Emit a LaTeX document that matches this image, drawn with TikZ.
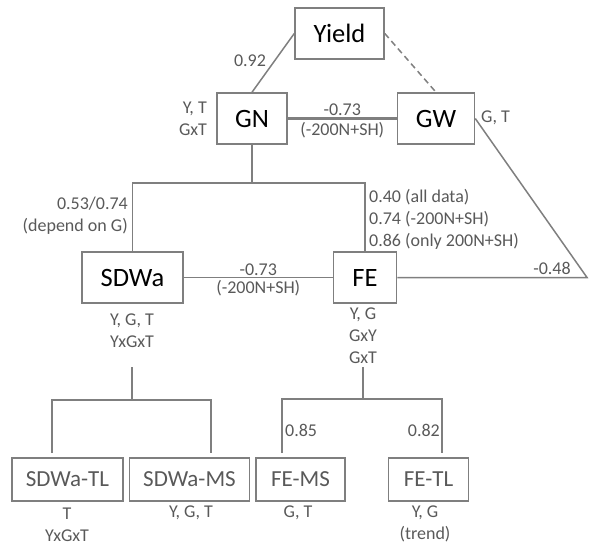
\documentclass[tikz,border=0pt]{standalone}
\usepackage{fontspec}
\setmainfont{Carlito}
\usepackage{tikz}
\usetikzlibrary{positioning, calc}
\definecolor{linegray}{HTML}{7F7F7F}
\definecolor{textgray}{HTML}{595959}

\begin{document}
\begin{tikzpicture}[
        x=1pt, y=-1pt,
        box/.style={rectangle, draw=linegray, line width=1.5pt, minimum height=51pt, inner sep=0pt, font=\fontsize{26.5}{30}\selectfont},
        subbox/.style={rectangle, draw=linegray, line width=1.5pt, minimum height=43pt, inner sep=0pt, text=textgray, font=\fontsize{23}{26}\selectfont},
        link/.style={draw=linegray, line width=1.5pt},
        stem/.style={draw=linegray, line width=2.8pt},
        label/.style={text=textgray, font=\fontsize{18}{22}\selectfont, inner sep=0pt}
    ]
    \useasboundingbox (0,0) rectangle (593,545);

    \node[box, minimum width=89pt] (yield) at (339.5,33.5) {Yield};
    \node[box, minimum width=70pt] (gn) at (252,118.5) {GN};
    \node[box, minimum width=77pt, right=109pt of gn] (gw) {GW};
    \node[box, minimum width=101pt] (sdwa) at (132.5,277.5) {SDWa};
    \node[box, minimum width=63pt, right=149pt of sdwa] (fe) {FE};
    \node[subbox, minimum width=111pt] (sdwatl) at (67.5,479.5) {SDWa-TL};
    \node[subbox, minimum width=120pt, right=5pt of sdwatl] (sdwams) {SDWa-MS};
    \node[subbox, minimum width=89pt, right=5pt of sdwams] (fems) {FE-MS};
    \node[subbox, minimum width=80pt, right=42pt of fems] (fetl) {FE-TL};

    % factor labels
    \node[label, anchor=east, align=right] (gninfo) at (207,118.5) {Y, T\\GxT};
    \node[label, anchor=west] (gwinfo) at (481,118) {G, T};
    \node[label, align=center] (sdwainfo) at (132,331) {Y, G, T\\YxGxT};
    \node[label, align=center] (feinfo) at (363,336) {Y, G\\GxY\\GxT};
    \node[label, align=center] (tlinfo) at (67,525) {T\\YxGxT};
    \node[label] (msinfo) at (191,513) {Y, G, T};
    \node[label] (femsinfo) at (298,513) {G, T};
    \node[label, align=center] (fetlinfo) at (425,524) {Y, G\\(trend)};

    % correlations
    \node[label] (ryg) at (250,61) {0.92};
    \node[label, anchor=east, align=right] (rgs) at (128,216) {0.53/0.74\\(depend on G)};
    \node[label, anchor=west, align=left] (rgf) at (369,219) {0.40 (all data)\\0.74 (-200N+SH)\\0.86 (only 200N+SH)};
    \node[label] (rwf) at (552,268) {-0.48};
    \node[label, anchor=west] (rfm) at (285,430) {0.85};
    \node[label, anchor=east] (rft) at (440,430) {0.82};

    \coordinate (tip) at (587,277.5);
    \coordinate (gnjoin) at (252,183);
    \coordinate (sdtop) at (132,367);
    \coordinate (sdjoin) at (132,400);
    \coordinate (tlend) at (52,453);
    \coordinate (msend) at (211,453);
    \coordinate (fetop) at (363,367);
    \coordinate (fejoin) at (363,399);
    \coordinate (femsend) at (282,453);
    \coordinate (fetlend) at (442,453);

    \draw[link] (gn.north) -- (yield.west);
    \draw[link, dash pattern=on 6pt off 4pt] (yield.east) -- (gw.north);
    \draw[stem] (gn) -- node[label, above=1.5pt] {-0.73} node[label, below=2.5pt] {(-200N+SH)} (gw);
    \draw[link] (gw.east) -- (tip) -- (fe.east);
    \draw[stem] (gn) -- (gnjoin);
    \draw[link] (sdwa.north) |- (gnjoin) -| (fe.north);
    \draw[link] (sdwa) -- node[label, above=1.5pt] {-0.73} node[label, below=2.5pt] {(-200N+SH)} (fe);

    \draw[stem] (sdtop) -- (sdjoin);
    \draw[link] (tlend) |- (sdjoin) -| (msend);
    \draw[stem] (fetop) -- (fejoin);
    \draw[link] (femsend) |- (fejoin) -| (fetlend);

\end{tikzpicture}
\end{document}
